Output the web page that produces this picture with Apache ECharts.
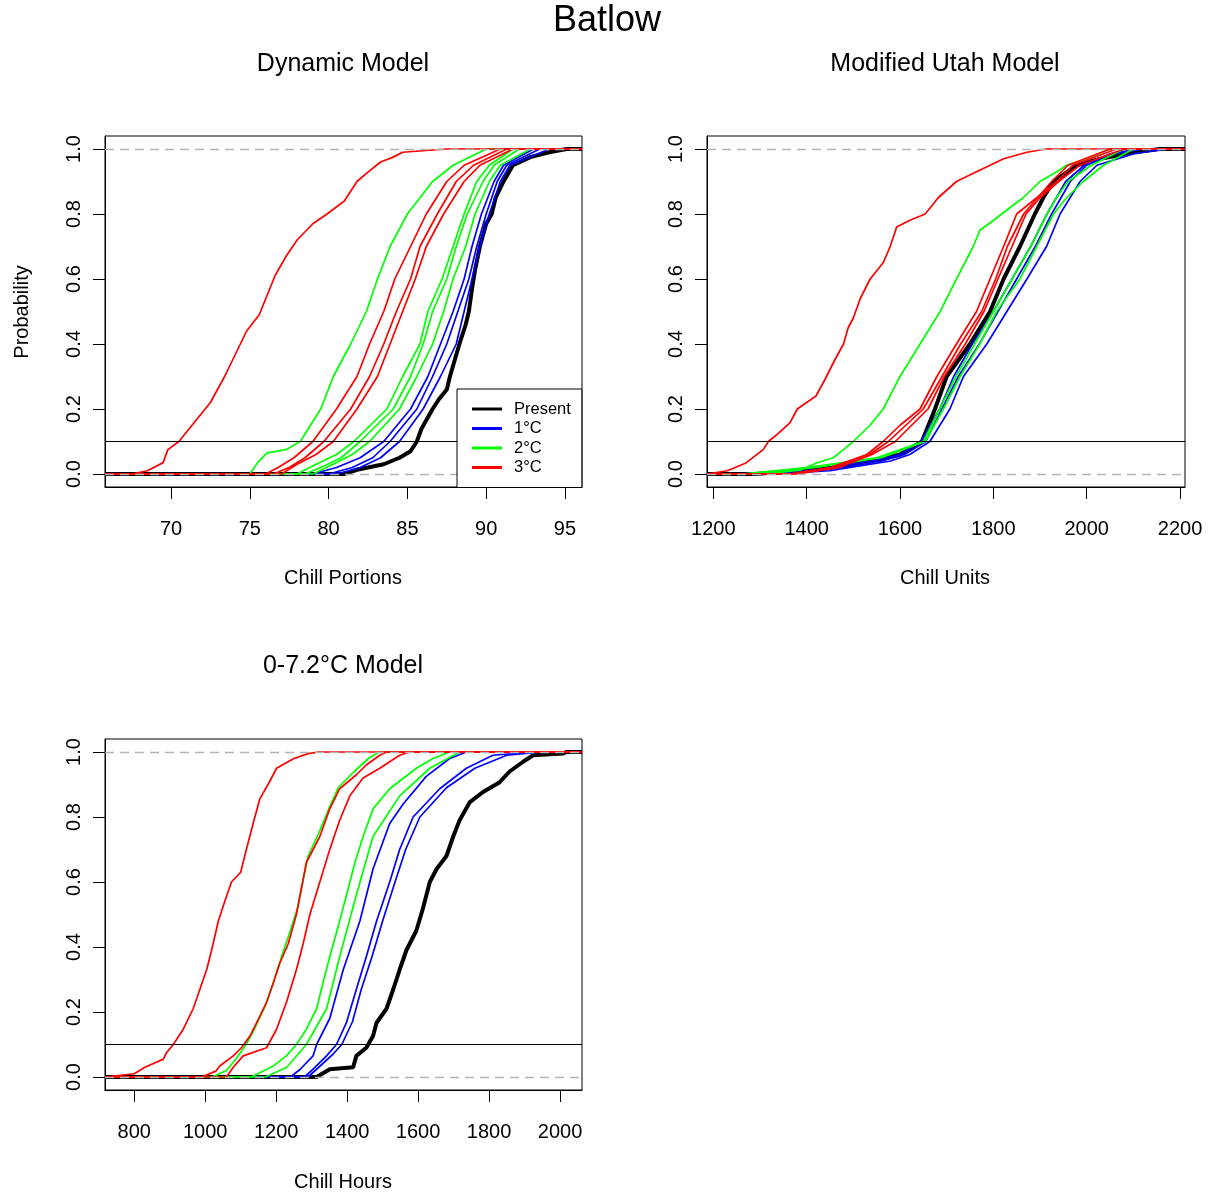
<!DOCTYPE html>
<html>
<head>
<meta charset="utf-8">
<script src="https://cdn.jsdelivr.net/npm/echarts@6/dist/echarts.min.js"></script>
<style>
html,body{margin:0;padding:0;background:#fff;}
#chart{width:1210px;height:1193px;}
</style>
</head>
<body>
<div id="chart"></div>
<script>
// ---------- tick labels ----------
const probTicks = [0, 0.2, 0.4, 0.6, 0.8, 1.0];
const cpTicks = [70, 75, 80, 85, 90, 95];
const cuTicks = [1200, 1400, 1600, 1800, 2000, 2200];
const chTicks = [800, 1000, 1200, 1400, 1600, 1800, 2000];
const legendNames = ['Present', '1°C', '2°C', '3°C'];

// ---------- Dynamic Model: Chill Portions [value, cumulative probability] ----------
const cpPresent = [[81.0,0],[81.8,0.013],[83.5,0.03],[84.5,0.05],[85.2,0.07],[85.6,0.1],[85.9,0.14],[86.6,0.2],[87.0,0.23],[87.5,0.26],[87.7,0.3],[88.0,0.35],[88.3,0.4],[88.7,0.46],[88.9,0.5],[89.1,0.57],[89.3,0.63],[89.6,0.7],[90.0,0.77],[90.35,0.8],[90.6,0.85],[91.1,0.9],[91.7,0.95],[92.8,0.975],[94.0,0.99],[95.1,1.0]];
const cp1C_a = [[79.0,0],[80.5,0.02],[82.0,0.05],[83.5,0.1],[85.2,0.2],[86.3,0.3],[87.1,0.4],[87.9,0.5],[88.6,0.6],[89.1,0.7],[89.7,0.8],[90.5,0.9],[91.1,0.95],[93.0,1.0]];
const cp1C_b = [[80.5,0],[82.0,0.02],[83.3,0.05],[84.5,0.1],[86.0,0.2],[87.1,0.3],[88.1,0.4],[88.6,0.5],[89.1,0.6],[89.6,0.7],[90.2,0.8],[90.9,0.9],[91.5,0.95],[94.0,1.0]];
const cp1C_c = [[80.0,0],[81.5,0.02],[82.8,0.05],[83.9,0.1],[85.6,0.2],[86.6,0.3],[87.5,0.4],[88.2,0.5],[88.9,0.6],[89.4,0.7],[90.0,0.8],[90.7,0.9],[91.3,0.95],[93.4,1.0]];
const cp2C_a = [[75.0,0],[75.5,0.035],[76.1,0.065],[77.3,0.075],[78.2,0.1],[79.5,0.2],[80.3,0.3],[81.4,0.4],[82.4,0.5],[83.1,0.6],[83.9,0.7],[85.0,0.8],[86.6,0.9],[87.9,0.95],[90.0,1.0]];
const cp2C_b = [[78.5,0],[79.5,0.02],[80.8,0.05],[82.0,0.1],[84.1,0.2],[85.2,0.3],[86.0,0.4],[86.6,0.5],[87.5,0.6],[88.1,0.7],[88.8,0.8],[89.8,0.9],[90.5,0.95],[92.1,1.0]];
const cp2C_c = [[79.0,0],[80.3,0.03],[81.5,0.06],[82.6,0.1],[84.5,0.2],[85.6,0.3],[86.6,0.4],[87.3,0.5],[87.9,0.6],[88.7,0.7],[89.3,0.8],[90.2,0.9],[90.9,0.95],[92.8,1.0]];
const cp2C_d = [[78.0,0],[79.2,0.03],[80.5,0.06],[81.6,0.1],[83.7,0.2],[84.7,0.3],[85.8,0.4],[86.3,0.5],[87.2,0.6],[87.9,0.7],[88.6,0.8],[89.4,0.9],[90.2,0.95],[91.7,1.0]];
const cp3C_a = [[67.5,0],[68.5,0.01],[69.5,0.035],[69.8,0.075],[70.5,0.1],[71.5,0.16],[72.5,0.22],[73.4,0.3],[74.2,0.38],[74.8,0.44],[75.6,0.49],[76.1,0.55],[76.6,0.61],[77.3,0.67],[78.0,0.72],[79.0,0.77],[79.9,0.8],[81.0,0.84],[81.8,0.9],[82.4,0.925],[83.3,0.96],[84.1,0.975],[84.7,0.99],[87.5,1.0]];
const cp3C_b = [[76.0,0],[76.8,0.02],[77.8,0.05],[79.0,0.1],[80.5,0.2],[81.8,0.3],[82.6,0.4],[83.5,0.5],[84.2,0.6],[85.2,0.7],[86.2,0.8],[87.5,0.9],[88.6,0.95],[90.9,1.0]];
const cp3C_c = [[76.5,0],[77.5,0.02],[78.5,0.05],[79.7,0.1],[81.4,0.2],[82.6,0.3],[83.5,0.4],[84.3,0.5],[85.2,0.6],[85.8,0.7],[86.9,0.8],[88.1,0.9],[89.2,0.95],[91.3,1.0]];
const cp3C_d = [[77.0,0],[78.0,0.03],[79.2,0.06],[80.3,0.1],[81.8,0.2],[83.1,0.3],[83.9,0.4],[84.7,0.5],[85.5,0.6],[86.2,0.7],[87.3,0.8],[88.6,0.9],[89.6,0.95],[91.7,1.0]];

// ---------- Modified Utah Model: Chill Units ----------
const cuPresent = [[1290,0],[1380,0.01],[1480,0.024],[1557,0.044],[1600,0.06],[1647,0.1],[1675,0.2],[1700,0.3],[1750,0.4],[1793,0.5],[1822,0.6],[1857,0.7],[1889,0.8],[1907,0.85],[1929,0.9],[1979,0.95],[2030,0.97],[2100,0.99],[2157,1.0]];
const cu1C_a = [[1330,0],[1450,0.01],[1580,0.04],[1621,0.06],[1664,0.1],[1707,0.2],[1736,0.3],[1786,0.4],[1829,0.5],[1872,0.6],[1914,0.7],[1943,0.8],[1986,0.9],[2022,0.95],[2100,0.985],[2171,1.0]];
const cu1C_b = [[1300,0],[1430,0.01],[1560,0.04],[1610,0.06],[1655,0.1],[1690,0.2],[1725,0.3],[1770,0.4],[1810,0.5],[1850,0.6],[1890,0.7],[1925,0.8],[1965,0.9],[2000,0.95],[2060,0.985],[2120,1.0]];
const cu1C_c = [[1250,0],[1400,0.01],[1540,0.04],[1600,0.06],[1645,0.1],[1685,0.2],[1715,0.3],[1755,0.4],[1800,0.5],[1840,0.6],[1880,0.7],[1915,0.8],[1955,0.9],[1995,0.95],[2050,0.985],[2110,1.0]];
const cu2C_a = [[1310,0],[1386,0.012],[1421,0.034],[1457,0.05],[1479,0.075],[1500,0.1],[1536,0.15],[1564,0.2],[1600,0.3],[1643,0.4],[1686,0.5],[1721,0.6],[1757,0.7],[1771,0.75],[1800,0.78],[1836,0.82],[1864,0.85],[1900,0.9],[1936,0.93],[1957,0.95],[2000,0.97],[2050,1.0]];
const cu2C_b = [[1280,0],[1420,0.02],[1560,0.05],[1654,0.1],[1693,0.2],[1729,0.3],[1771,0.4],[1807,0.5],[1857,0.6],[1893,0.7],[1929,0.8],[1957,0.85],[1993,0.9],[2036,0.95],[2100,1.0]];
const cu2C_c = [[1260,0],[1400,0.02],[1550,0.05],[1650,0.1],[1685,0.2],[1720,0.3],[1760,0.4],[1800,0.5],[1840,0.6],[1880,0.7],[1915,0.8],[1935,0.85],[1960,0.9],[2010,0.95],[2080,1.0]];
const cu3C_a = [[1190,0],[1230,0.01],[1270,0.034],[1307,0.075],[1318,0.1],[1340,0.126],[1364,0.157],[1380,0.2],[1420,0.24],[1439,0.29],[1460,0.35],[1479,0.4],[1489,0.45],[1500,0.48],[1515,0.54],[1536,0.6],[1564,0.65],[1579,0.7],[1593,0.76],[1620,0.78],[1654,0.8],[1682,0.85],[1721,0.9],[1764,0.93],[1793,0.95],[1822,0.97],[1872,0.99],[1914,1.0]];
const cu3C_b = [[1360,0],[1450,0.02],[1529,0.06],[1564,0.1],[1600,0.15],[1643,0.2],[1679,0.3],[1721,0.4],[1764,0.5],[1793,0.6],[1822,0.7],[1850,0.8],[1893,0.85],[1936,0.9],[1970,0.95],[2064,1.0]];
const cu3C_c = [[1380,0],[1470,0.02],[1540,0.06],[1590,0.1],[1660,0.2],[1695,0.3],[1740,0.4],[1780,0.5],[1810,0.6],[1840,0.7],[1870,0.8],[1900,0.85],[1940,0.9],[1985,0.95],[2080,1.0]];
const cu3C_d = [[1370,0],[1460,0.02],[1535,0.06],[1575,0.1],[1650,0.2],[1690,0.3],[1730,0.4],[1775,0.5],[1805,0.6],[1830,0.7],[1865,0.8],[1925,0.9],[1960,0.95],[2050,1.0]];

// ---------- 0-7.2°C Model: Chill Hours ----------
const chPresent = [[1314,0],[1351,0.024],[1417,0.03],[1426,0.065],[1454,0.09],[1473,0.126],[1483,0.167],[1511,0.21],[1530,0.27],[1548,0.33],[1567,0.39],[1595,0.45],[1614,0.52],[1633,0.6],[1652,0.64],[1680,0.68],[1699,0.74],[1717,0.79],[1746,0.846],[1783,0.877],[1830,0.907],[1858,0.94],[1896,0.97],[1924,0.99],[2008,0.995],[2018,1.0]];
const ch1C_a = [[1240,0],[1267,0.023],[1304,0.065],[1314,0.1],[1351,0.18],[1389,0.33],[1436,0.48],[1473,0.64],[1520,0.78],[1558,0.84],[1623,0.925],[1689,0.98],[1736,1.0]];
const ch1C_b = [[1280,0],[1304,0.024],[1342,0.065],[1370,0.1],[1398,0.167],[1426,0.27],[1454,0.37],[1483,0.48],[1520,0.6],[1548,0.7],[1586,0.8],[1661,0.887],[1736,0.95],[1811,0.99],[1924,1.0]];
const ch1C_c = [[1290,0],[1320,0.03],[1360,0.07],[1385,0.1],[1415,0.17],[1440,0.27],[1470,0.37],[1500,0.48],[1535,0.6],[1565,0.7],[1605,0.8],[1680,0.89],[1760,0.95],[1850,0.99],[1950,1.0]];
const ch2C_a = [[1020,0],[1060,0.02],[1090,0.06],[1115,0.1],[1140,0.15],[1170,0.22],[1195,0.3],[1215,0.37],[1240,0.45],[1260,0.52],[1275,0.6],[1290,0.68],[1320,0.75],[1350,0.83],[1375,0.89],[1420,0.94],[1460,0.98],[1490,1.0]];
const ch2C_b = [[1130,0],[1154,0.013],[1192,0.034],[1229,0.065],[1257,0.1],[1285,0.147],[1314,0.21],[1332,0.29],[1351,0.37],[1379,0.48],[1403,0.58],[1422,0.66],[1445,0.74],[1473,0.825],[1520,0.887],[1595,0.95],[1642,0.98],[1689,1.0]];
const ch2C_c = [[1170,0],[1230,0.03],[1285,0.1],[1342,0.21],[1379,0.37],[1426,0.56],[1473,0.74],[1548,0.865],[1633,0.95],[1717,1.0]];
const ch3C_a = [[722,0],[800,0.01],[830,0.03],[882,0.055],[891,0.075],[910,0.1],[938,0.147],[966,0.21],[985,0.27],[1004,0.33],[1018,0.39],[1037,0.48],[1055,0.54],[1074,0.6],[1100,0.63],[1116,0.7],[1135,0.78],[1154,0.856],[1182,0.91],[1201,0.95],[1250,0.98],[1290,0.995],[1320,1.0]];
const ch3C_b = [[990,0],[1030,0.018],[1041,0.034],[1079,0.065],[1102,0.09],[1126,0.126],[1145,0.167],[1173,0.23],[1192,0.29],[1210,0.35],[1234,0.41],[1257,0.5],[1271,0.58],[1285,0.66],[1323,0.74],[1351,0.825],[1379,0.887],[1426,0.93],[1454,0.96],[1492,0.99],[1511,1.0]];
const ch3C_c = [[1060,0],[1079,0.03],[1107,0.065],[1173,0.09],[1201,0.147],[1229,0.23],[1257,0.33],[1276,0.41],[1295,0.5],[1323,0.6],[1351,0.7],[1379,0.79],[1408,0.866],[1445,0.92],[1492,0.95],[1548,0.99],[1577,1.0]];

// ---------- axis ranges (R-style 4% padding) ----------
const cpRange = [65.81, 96.08];
const cuRange = [1186.5, 2210.7];
const chRange = [717.5, 2062];

// ---------- build chart ----------
const COLORS = {'Present':'#000000','1°C':'#0000FF','2°C':'#00FF00','3°C':'#FF0000'};
const FONT = '"Liberation Sans", Arial, sans-serif';

const panels = [
  {range: cpRange, ticks: cpTicks, present: cpPresent, c1: [cp1C_a, cp1C_b, cp1C_c], c2: [cp2C_a, cp2C_b, cp2C_c, cp2C_d], c3: [cp3C_a, cp3C_b, cp3C_c, cp3C_d]},
  {range: cuRange, ticks: cuTicks, present: cuPresent, c1: [cu1C_a, cu1C_b, cu1C_c], c2: [cu2C_a, cu2C_b, cu2C_c], c3: [cu3C_a, cu3C_b, cu3C_c, cu3C_d]},
  {range: chRange, ticks: chTicks, present: chPresent, c1: [ch1C_a, ch1C_b, ch1C_c], c2: [ch2C_a, ch2C_b, ch2C_c], c3: [ch3C_a, ch3C_b, ch3C_c]}
];

const grids = [
  {left: 105, top: 136, width: 477, height: 351},
  {left: 707, top: 136, width: 478, height: 351},
  {left: 105, top: 739, width: 477, height: 351}
].map(g => Object.assign({show: true, borderColor: '#000', borderWidth: 1, backgroundColor: 'transparent'}, g));

function xAxisCfg(gi, range, ticks) {
  return {
    type: 'value', gridIndex: gi, min: range[0], max: range[1],
    axisLine: {show: true, onZero: false, lineStyle: {color: '#000', width: 1}},
    axisTick: {show: true, customValues: ticks, length: 12, lineStyle: {color: '#000', width: 1}},
    axisLabel: {customValues: ticks, fontSize: 20, fontFamily: FONT, color: '#000', margin: 32,
      formatter: v => String(v)},
    splitLine: {show: false}
  };
}
function yAxisCfg(gi) {
  return {
    type: 'value', gridIndex: gi, min: -0.04, max: 1.04,
    axisLine: {show: true, onZero: false, lineStyle: {color: '#000', width: 1}},
    axisTick: {show: true, customValues: probTicks, length: 12, lineStyle: {color: '#000', width: 1}},
    axisLabel: {customValues: probTicks, rotate: 90, fontSize: 20, fontFamily: FONT, color: '#000', margin: 21,
      formatter: v => Number(v).toFixed(1)},
    splitLine: {show: false}
  };
}

// ECDF curves extend horizontally to the plot edges (as in R's plot.ecdf)
function withTails(data, range) {
  return [[range[0], 0]].concat(data, [[range[1], 1]]);
}

const series = [];
panels.forEach((p, gi) => {
  series.push({
    type: 'line', xAxisIndex: gi, yAxisIndex: gi, data: [], silent: true, z: 1,
    markLine: {silent: true, symbol: 'none', animation: false, label: {show: false},
      lineStyle: {color: '#b3b3b3', type: [9, 6], width: 1.3},
      data: [{yAxis: 0}, {yAxis: 1}]}
  });
  function addCurve(name, data, width, z) {
    series.push({
      type: 'line', name: name, xAxisIndex: gi, yAxisIndex: gi, data: withTails(data, p.range),
      showSymbol: false, symbol: 'none', silent: true, animation: false, z: z, clip: true,
      color: COLORS[name], itemStyle: {color: COLORS[name]},
      lineStyle: {color: COLORS[name], width: width}
    });
  }
  addCurve('Present', p.present, 4, 2);
  p.c1.forEach(d => addCurve('1°C', d, 1.7, 3));
  p.c2.forEach(d => addCurve('2°C', d, 1.7, 3));
  p.c3.forEach(d => addCurve('3°C', d, 1.7, 3));
  series.push({
    type: 'line', xAxisIndex: gi, yAxisIndex: gi, data: [], silent: true, z: 5,
    markLine: {silent: true, symbol: 'none', animation: false, label: {show: false},
      lineStyle: {color: '#000', type: 'solid', width: 1.2},
      data: [{yAxis: 0.1}]}
  });
});

function txt(text, x, y, size, rot) {
  return {type: 'text', x: x, y: y, rotation: rot || 0, silent: true,
    style: {text: text, fontSize: size, fontFamily: FONT, fill: '#000', align: 'center', verticalAlign: 'middle'}};
}

const option = {
  backgroundColor: '#fff',
  animation: false,
  grid: grids,
  xAxis: panels.map((p, gi) => xAxisCfg(gi, p.range, p.ticks)),
  yAxis: [yAxisCfg(0), yAxisCfg(1), yAxisCfg(2)],
  legend: {
    data: legendNames, orient: 'vertical', left: 457, top: 389,
    padding: [11, 11, 11, 15], itemGap: 1.5, itemWidth: 30, itemHeight: 3, icon: 'rect',
    selectedMode: false, backgroundColor: '#fff', borderColor: '#000', borderWidth: 1, borderRadius: 0,
    textStyle: {fontSize: 16.5, lineHeight: 18, fontFamily: FONT, color: '#000', padding: [0, 0, 0, 7]},
    z: 8
  },
  graphic: [
    txt('Batlow', 607, 21, 36),
    txt('Dynamic Model', 343, 64, 25),
    txt('Modified Utah Model', 945, 64, 25),
    txt('0-7.2°C Model', 343, 666, 25),
    txt('Chill Portions', 343, 578, 20),
    txt('Chill Units', 945, 578, 20),
    txt('Chill Hours', 343, 1182, 20),
    txt('Probability', 22, 312, 20, Math.PI / 2)
  ],
  series: series
};

const chart = echarts.init(document.getElementById('chart'), null, {renderer: 'canvas'});
chart.setOption(option);
</script>
</body>
</html>
